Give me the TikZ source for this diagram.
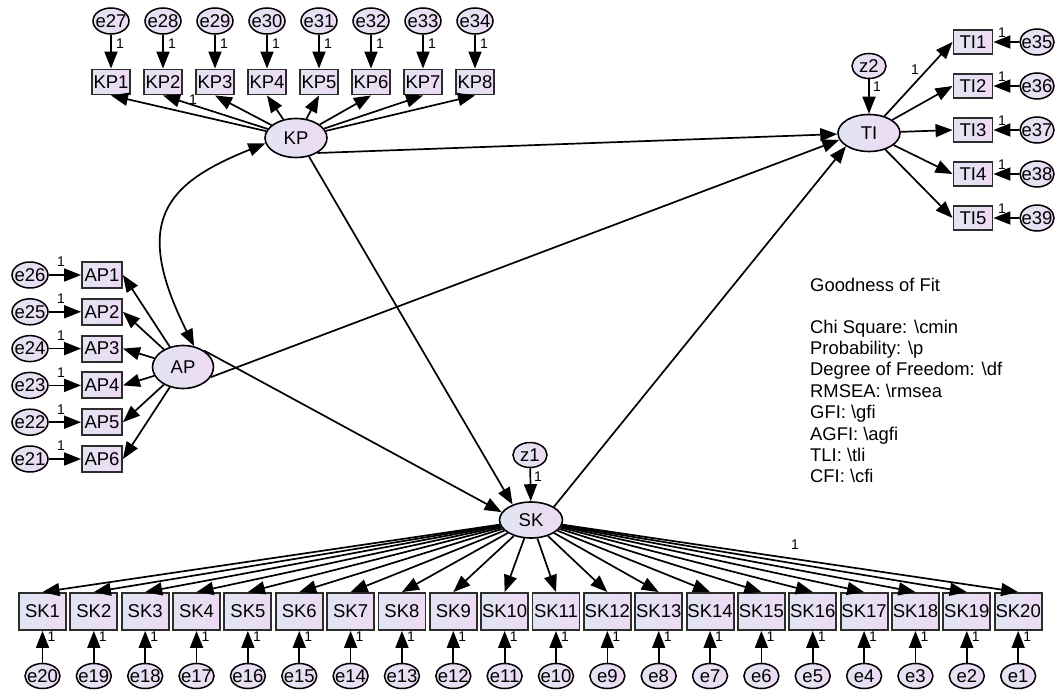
\documentclass[tikz,border=0pt]{standalone}
\usepackage{fontspec}
\setmainfont{Liberation Sans}
\usetikzlibrary{arrows.meta,shapes.geometric}
\definecolor{shadeL}{RGB}{224,229,243}
\definecolor{shadeR}{RGB}{238,218,243}
\definecolor{rim}{RGB}{45,45,45}
\tikzset{
  obs/.style={rectangle, draw=rim, line width=1.9pt, left color=shadeL, right color=shadeR,
    inner sep=0pt, minimum width=38pt, minimum height=25pt, font=\fontsize{18.5}{18.5}\selectfont},
  lat/.style={ellipse, draw=black, line width=1.6pt, left color=shadeL, right color=shadeR,
    inner sep=0pt, font=\fontsize{18.5}{18.5}\selectfont},
  err/.style={ellipse, draw=black, line width=1.5pt, left color=shadeL, right color=shadeR,
    inner sep=0pt, minimum width=35pt, minimum height=25pt, font=\fontsize{18.5}{18.5}\selectfont},
  arr/.style={-{Triangle[length=17pt,width=13pt]}, line width=1.7pt},
  dblarr/.style={{Triangle[length=17pt,width=13pt]}-{Triangle[length=17pt,width=13pt]}, line width=1.7pt},
  onelab/.style={inner sep=0pt, font=\fontsize{14}{14}\selectfont},
  fitline/.style={anchor=base west, inner sep=0pt, font=\fontsize{18.4}{18.4}\selectfont}
}
\newcommand{\ctr}[1]{\makebox[0pt]{#1}}
\begin{document}
\begin{tikzpicture}[x=1pt,y=-1pt]
\useasboundingbox (0,0) rectangle (1056,690);

% ---------- latent variables ----------
\node[lat, minimum width=62pt, minimum height=39pt] (KP) at (296,138) {\ctr{KP}};
\node[lat, minimum width=61pt, minimum height=43pt] (AP) at (183,367) {\ctr{AP}};
\node[lat, minimum width=62pt, minimum height=37pt] (TI) at (869,133) {\ctr{TI}};
\node[lat, minimum width=63pt, minimum height=36pt] (SK) at (531,520) {\ctr{SK}};

% disturbances
\node[err, minimum width=34pt] (z2) at (869,66) {\ctr{z2}};
\node[err, minimum width=34pt] (z1) at (530,455) {\ctr{z1}};
\draw[arr] (z2) -- (TI);
\draw[arr] (z1) -- (SK);
\node[onelab] (onez2) at (877,87) {1};
\node[onelab] (onez1) at (538,477) {1};

% ---------- KP indicators ----------
\foreach \i [evaluate=\i as \x using {111+52*(\i-1)}, evaluate=\i as \e using {int(26+\i)}] in {1,...,8} {
  \node[obs] (KP\i) at (\x,82) {\ctr{KP\i}};
  \node[err, minimum width=36pt, minimum height=26pt] (e\e) at (\x,21) {\ctr{e\e}};
  \draw[arr] (e\e) -- (KP\i);
  \draw[arr] (KP) -- (KP\i.south);
  \node[onelab] (oneKP\i) at (\x+9,44) {1};
}
\node[onelab] (loadKP) at (193,100) {1};

% ---------- AP indicators ----------
\foreach \i [evaluate=\i as \y using {275+36.8*(\i-1)}, evaluate=\i as \e using {int(27-\i)}] in {1,...,6} {
  \node[obs, minimum width=40pt, minimum height=26pt] (AP\i) at (102,\y) {\ctr{AP\i}};
  \node[err, minimum width=36pt, minimum height=26pt] (e\e) at (30,\y) {\ctr{e\e}};
  \draw[arr] (e\e) -- (AP\i);
  \draw[arr] (AP) -- (AP\i.east);
  \node[onelab] (oneAP\i) at (61,\y-13) {1};
}

% ---------- TI indicators ----------
\foreach \i [evaluate=\i as \y using {42+44*(\i-1)}, evaluate=\i as \e using {int(34+\i)}] in {1,...,5} {
  \node[obs, minimum width=39pt, minimum height=24pt] (TI\i) at (973,\y) {\ctr{TI\i}};
  \node[err, minimum width=34pt, minimum height=26pt] (e\e) at (1037,\y) {\ctr{e\e}};
  \draw[arr] (e\e) -- (TI\i);
  \draw[arr] (TI) -- (TI\i.west);
  \node[onelab] (oneTI\i) at (1002,\y-9) {1};
}
\node[onelab] (loadTI) at (915,70) {1};

% ---------- SK indicators ----------
\foreach \i [evaluate=\i as \x using {42.5+51.35*(\i-1)}, evaluate=\i as \e using {int(21-\i)}] in {1,...,20} {
  \node[obs, minimum width=47pt, minimum height=37pt] (SK\i) at (\x,611.5) {\ctr{SK\i}};
  \node[err] (e\e) at (\x,676) {\ctr{e\e}};
  \draw[arr] (e\e) -- (SK\i);
  \draw[arr] (SK) -- (SK\i.north);
  \node[onelab] (oneSK\i) at (\x+9,637) {1};
}
\node[onelab] (loadSK) at (795,545) {1};

% ---------- structural paths ----------
\draw[arr] (KP.-35) -- (TI.182);
\draw[arr] (KP.-55) -- (SK.140);
\draw[arr] (AP.-20) -- (TI.193);
\draw[arr] (AP.38) -- (SK.165);
\draw[arr] (SK.30) -- (TI.210);
\draw[dblarr] (AP.62) .. controls (132,222) and (164,184) .. (KP.190);

% ---------- fit summary ----------
\node[fitline] (fit0) at (810,291) {Goodness of Fit};
\node[fitline] (fit1) at (810,333) {Chi Square: \textbackslash cmin};
\node[fitline] (fit2) at (810,354.4) {Probability: \textbackslash p};
\node[fitline] (fit3) at (810,375.8) {Degree of Freedom: \textbackslash df};
\node[fitline] (fit4) at (810,397.2) {RMSEA: \textbackslash rmsea};
\node[fitline] (fit5) at (810,418.6) {GFI: \textbackslash gfi};
\node[fitline] (fit6) at (810,440) {AGFI: \textbackslash agfi};
\node[fitline] (fit7) at (810,461.4) {TLI: \textbackslash tli};
\node[fitline] (fit8) at (810,482.8) {CFI: \textbackslash cfi};
\end{tikzpicture}
\end{document}
